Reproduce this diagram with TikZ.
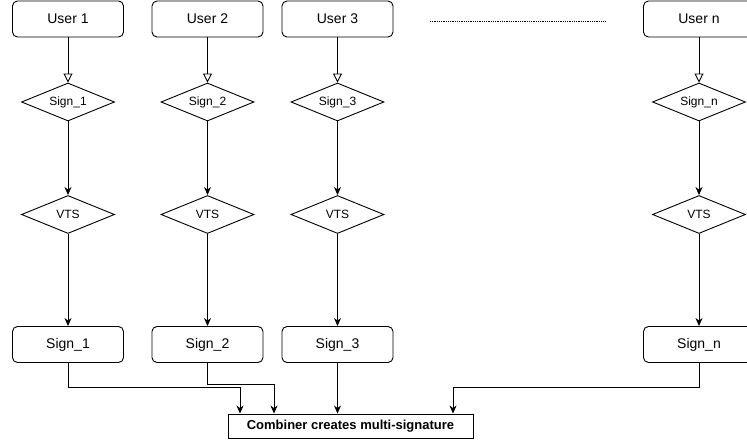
\documentclass[tikz,border=0pt]{standalone}
\usepackage{fontspec}
\setmainfont{Liberation Sans}
\usetikzlibrary{shapes.geometric,arrows.meta,calc}

\tikzset{
  box/.style={draw, line width=0.9pt, rounded corners=5pt, fill=white,
    minimum width=111pt, minimum height=36pt, inner sep=0pt,
    font=\fontsize{14}{16}\selectfont},
  gate/.style={draw, line width=0.9pt, diamond, aspect=2.45, fill=white,
    minimum width=93pt, minimum height=38pt, inner sep=0pt,
    font=\fontsize{12}{14}\selectfont},
  combbox/.style={draw, line width=0.9pt, fill=white,
    minimum width=245pt, minimum height=24pt, inner sep=0pt,
    font=\fontsize{13}{15}\selectfont\bfseries},
  openarr/.style={line width=0.9pt, -{Triangle[open,length=9pt,width=9pt]}},
  arr/.style={line width=0.9pt, -{Stealth[length=8pt,width=7pt,inset=2.5pt]}},
}

\begin{document}
\begin{tikzpicture}[x=1pt,y=-1pt]
\useasboundingbox (0,0) rectangle (747,443);

% user column nodes
\foreach \id/\cx/\lab in {1/68/1, 2/207.5/2, 3/337.5/3, n/699/n}{
  \node[box]  (u\id) at (\cx,19)    {User \lab};
  \node[gate] (g\id) at (\cx,102)   {Sign\_\lab};
  \node[gate] (v\id) at (\cx,214.5) {VTS};
  \node[box]  (s\id) at (\cx,344.5) {Sign\_\lab};
  \draw[openarr] (u\id) -- (g\id);
  \draw[arr] (g\id) -- (v\id);
  \draw[arr] (v\id) -- (s\id);
}

% ellipsis between user 3 and user n
\coordinate (dA) at (430,21);
\coordinate (dB) at (605,21);
\draw[line width=0.7pt, dash pattern=on 0.9pt off 0.9pt] (dA) -- (dB);

% combiner
\node[combbox] (comb) at (350.5,426) {Combiner creates multi-signature};

\draw[arr] (s1.south) -- ++(0,25) -| ([xshift=-110.5pt]comb.north);
\draw[arr] (s2.south) -- ++(0,22) -| ([xshift=-76.5pt]comb.north);
\draw[arr] (s3.south) -- (s3.south |- comb.north);
\draw[arr] (sn.south) -- ++(0,25) -| ([xshift=102.5pt]comb.north);
\end{tikzpicture}
\end{document}
